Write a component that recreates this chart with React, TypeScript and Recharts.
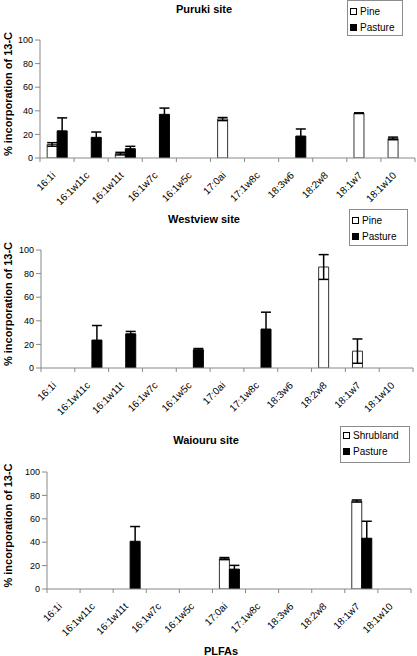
import { Bar, BarChart, ErrorBar, XAxis, YAxis } from "recharts"

const plfas = ["16:1i", "16:1w11c", "16:1w11t", "16:1w7c", "16:1w5c", "17:0ai", "17:1w8c", "18:3w6", "18:2w8", "18:1w7", "18:1w10"]
const yTicks = [0, 20, 40, 60, 80, 100]

// Puruki site
const purukiPine = [11.5, 0, 3.7, 0, 0, 33, 0, 0, 0, 38, 16.6]
const purukiPineErr = [1.5, 0, 1.1, 0, 0, 1.3, 0, 0, 0, 0.3, 1.1]
const purukiPasture = [23, 17.5, 7.9, 37, 0, 0, 0, 18.6, 0, 0, 0]
const purukiPastureErr = [11, 4.5, 2, 5.3, 0, 0, 0, 6, 0, 0, 0]

// Westview site
const westviewPine = [0, 0, 0, 0, 0, 0, 0, 0, 85.6, 14.3, 0]
const westviewPineErr = [0, 0, 0, 0, 0, 0, 0, 0, 10.5, 10.3, 0]
const westviewPasture = [0, 23.7, 29, 0, 15.5, 0, 33, 0, 0, 0, 0]
const westviewPastureErr = [0, 12.3, 2, 0, 1, 0, 14.3, 0, 0, 0, 0]

// Waiouru site
const waiouruShrub = [0, 0, 0, 0, 0, 26, 0, 0, 0, 75.2, 0]
const waiouruShrubErr = [0, 0, 0, 0, 0, 0.9, 0, 0, 0, 0.9, 0]
const waiouruPasture = [0, 0, 40.8, 0, 0, 17, 0, 0, 0, 43.4, 0]
const waiouruPastureErr = [0, 0, 12.6, 0, 0, 3.2, 0, 0, 0, 14.5, 0]

const font = "Arial, 'Liberation Sans', sans-serif"

function rows(a: number[], aErr: number[], b: number[], bErr: number[]) {
    return plfas.map((name, i) => ({ name, a: a[i], aErr: aErr[i], b: b[i], bErr: bErr[i] }))
}

function PlfaTick(props: any) {
    const { x, y, payload, index, band } = props
    const left = x - band / 2
    const tx = x - 1
    const ty = y + 18
    return (
        <g>
            <line x1={left} x2={left} y1={y} y2={y + 4} stroke="#888" />
            {index === plfas.length - 1 && <line x1={x + band / 2} x2={x + band / 2} y1={y} y2={y + 4} stroke="#888" />}
            <text
                x={tx}
                y={ty}
                transform={`rotate(-45 ${tx} ${ty})`}
                textAnchor="end"
                fontSize={10}
                fontFamily={font}
                fill="#000"
            >
                {payload.value}
            </text>
        </g>
    )
}

interface PanelProps {
    title: string
    titleX: number
    titleY: number
    names: string[]
    data: any[]
    top: number
    height: number
    yAxisWidth: number
    right: number
    xAxisHeight: number
    legend: { left: number; top: number; width: number; height: number; pad: number }
}

function Panel({ title, titleX, titleY, names, data, top, height, yAxisWidth, right, xAxisHeight, legend }: PanelProps) {
    const marginTop = 40
    const band = (417 - yAxisWidth - right) / plfas.length
    const plotH = height - marginTop - xAxisHeight
    const labelY = marginTop + plotH / 2 - 5
    return (
        <>
            <div
                style={{
                    position: "absolute", left: titleX - 100, top: titleY - 6, width: 200, textAlign: "center",
                    fontFamily: font, fontWeight: "bold", fontSize: 11, lineHeight: "12px",
                }}
            >
                {title}
            </div>
            <div style={{ position: "absolute", left: 0, top }}>
                <BarChart width={417} height={height} data={data} margin={{ top: marginTop, right, bottom: 0, left: 0 }} barCategoryGap="21%" barGap={0}>
                    <XAxis
                        dataKey="name"
                        height={xAxisHeight}
                        stroke="#888"
                        tickLine={false}
                        tickSize={0}
                        tickMargin={0}
                        interval={0}
                        tick={(p: any) => <PlfaTick {...p} band={band} />}
                    />
                    <YAxis
                        width={yAxisWidth}
                        domain={[0, 100]}
                        ticks={yTicks}
                        allowDataOverflow
                        stroke="#888"
                        tickSize={5}
                        tickMargin={2}
                        tick={{ fill: "#000", fontSize: 9, fontFamily: font }}
                        label={{
                            content: () => (
                                <text
                                    x={8}
                                    y={labelY}
                                    transform={`rotate(-90 8 ${labelY})`}
                                    dy="0.35em"
                                    textAnchor="middle"
                                    fontSize={11}
                                    fontWeight="bold"
                                    fontFamily={font}
                                    fill="#000"
                                >
                                    % incorporation of 13-C
                                </text>
                            ),
                        }}
                    />
                    <Bar dataKey="a" name={names[0]} fill="#fff" stroke="#333" strokeWidth={1} isAnimationActive={false}>
                        <ErrorBar dataKey="aErr" width={5} stroke="#000" direction="y" isAnimationActive={false} />
                    </Bar>
                    <Bar dataKey="b" name={names[1]} fill="#000" stroke="#000" strokeWidth={1} isAnimationActive={false}>
                        <ErrorBar dataKey="bErr" width={5} stroke="#000" direction="y" isAnimationActive={false} />
                    </Bar>
                </BarChart>
            </div>
            <div
                style={{
                    position: "absolute", left: legend.left, top: legend.top, width: legend.width, height: legend.height,
                    boxSizing: "border-box", border: "1px solid #8c8c8c", background: "#fff",
                    fontFamily: font, fontSize: 10, padding: `${legend.pad}px 0 0 2px`,
                }}
            >
                {names.map((n, i) => (
                    <div key={n} style={{ display: "flex", alignItems: "center", height: 16 }}>
                        <span
                            style={{
                                width: 5, height: 5, border: "1px solid #000", background: i === 0 ? "#fff" : "#000",
                                marginRight: 3, display: "inline-block",
                            }}
                        />
                        {n}
                    </div>
                ))}
            </div>
        </>
    )
}

export default function App() {
    return (
        <div style={{ position: "absolute", left: 0, top: 0, width: 417, height: 656, background: "#fff", overflow: "hidden" }}>
            <Panel
                title="Puruki site"
                titleX={204}
                titleY={9}
                names={["Pine", "Pasture"]}
                data={rows(purukiPine, purukiPineErr, purukiPasture, purukiPastureErr)}
                top={0}
                height={210}
                yAxisWidth={40}
                right={2}
                xAxisHeight={52}
                legend={{ left: 347, top: 0, width: 56, height: 36, pad: 2 }}
            />
            <Panel
                title="Westview site"
                titleX={204}
                titleY={219}
                names={["Pine", "Pasture"]}
                data={rows(westviewPine, westviewPineErr, westviewPasture, westviewPastureErr)}
                top={210}
                height={210}
                yAxisWidth={41}
                right={4}
                xAxisHeight={52}
                legend={{ left: 349, top: 209, width: 59, height: 37, pad: 2 }}
            />
            <Panel
                title="Waiouru site"
                titleX={206}
                titleY={440}
                names={["Shrubland", "Pasture"]}
                data={rows(waiouruShrub, waiouruShrubErr, waiouruPasture, waiouruPastureErr)}
                top={432}
                height={210}
                yAxisWidth={47}
                right={6}
                xAxisHeight={53}
                legend={{ left: 340, top: 426, width: 70, height: 37, pad: 0 }}
            />
            <div
                style={{
                    position: "absolute", left: 171, top: 645, width: 100, textAlign: "center",
                    fontFamily: font, fontWeight: "bold", fontSize: 11, lineHeight: "12px",
                }}
            >
                PLFAs
            </div>
        </div>
    )
}
